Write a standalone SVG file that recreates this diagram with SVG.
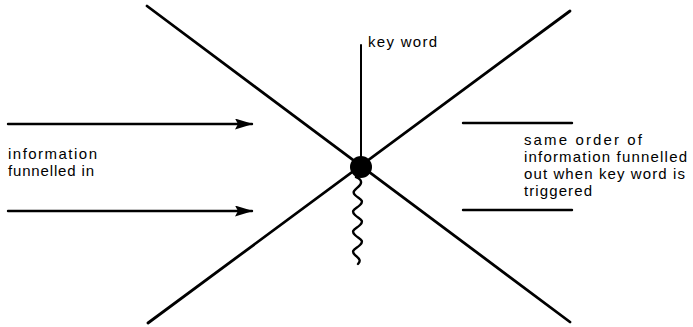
<svg xmlns="http://www.w3.org/2000/svg" width="693" height="327" viewBox="0 0 693 327">
<style>
.ln{stroke:#000;stroke-width:2.8;fill:none;stroke-linecap:round}
.tx{font-family:"Liberation Sans",Arial,sans-serif;font-size:15px;fill:#000}
</style>
<defs>
<marker id="ah" markerWidth="18" markerHeight="11" refX="17" refY="5.5" orient="auto" markerUnits="userSpaceOnUse">
<path d="M0,0 L18,5.5 L0,11 L3,5.5 Z" fill="#000"/>
</marker>
</defs>
<rect width="693" height="327" fill="#fff"/>
<g id="connectors">
<line class="ln" x1="147" y1="6" x2="570" y2="322"/>
<line class="ln" x1="148" y1="323" x2="570" y2="11"/>
<line class="ln" x1="361" y1="45" x2="361" y2="160" style="stroke-width:2"/>
<line class="ln" x1="8" y1="124" x2="252" y2="124" marker-end="url(#ah)" style="stroke-width:2.4"/>
<line class="ln" x1="8" y1="211" x2="252" y2="211" marker-end="url(#ah)" style="stroke-width:2.4"/>
<line class="ln" x1="463" y1="123" x2="572" y2="123" style="stroke-width:2.4"/>
<line class="ln" x1="463" y1="210" x2="572" y2="210" style="stroke-width:2.4"/>
<path class="ln" style="stroke-width:2.4" d="M356,177 c3,1 7,4 4,8 c-3,4 -9,6 -5,10 c4,4 10,5 5,10 c-4,4 -10,5 -5,10 c4,4 10,5 5,10 c-4,4 -10,5 -5,10 c4,4 10,5 5,10 c-4,4 -10,5 -5,10 c3,3 7,5 3,9"/>
</g>
<g id="node-center">
<circle cx="361" cy="167" r="11" fill="#000"/>
</g>
<g id="label-keyword">
<text class="tx" x="368" y="47" textLength="69">key word</text>
</g>
<g id="label-in">
<text class="tx" x="8" y="159" textLength="89">information</text>
<text class="tx" x="8" y="176" textLength="86">funnelled in</text>
</g>
<g id="label-out">
<text class="tx" x="524" y="145" textLength="118">same order of</text>
<text class="tx" x="524" y="162" textLength="163">information funnelled</text>
<text class="tx" x="524" y="179" textLength="161">out when key word is</text>
<text class="tx" x="524" y="196" textLength="68">triggered</text>
</g>
</svg>
